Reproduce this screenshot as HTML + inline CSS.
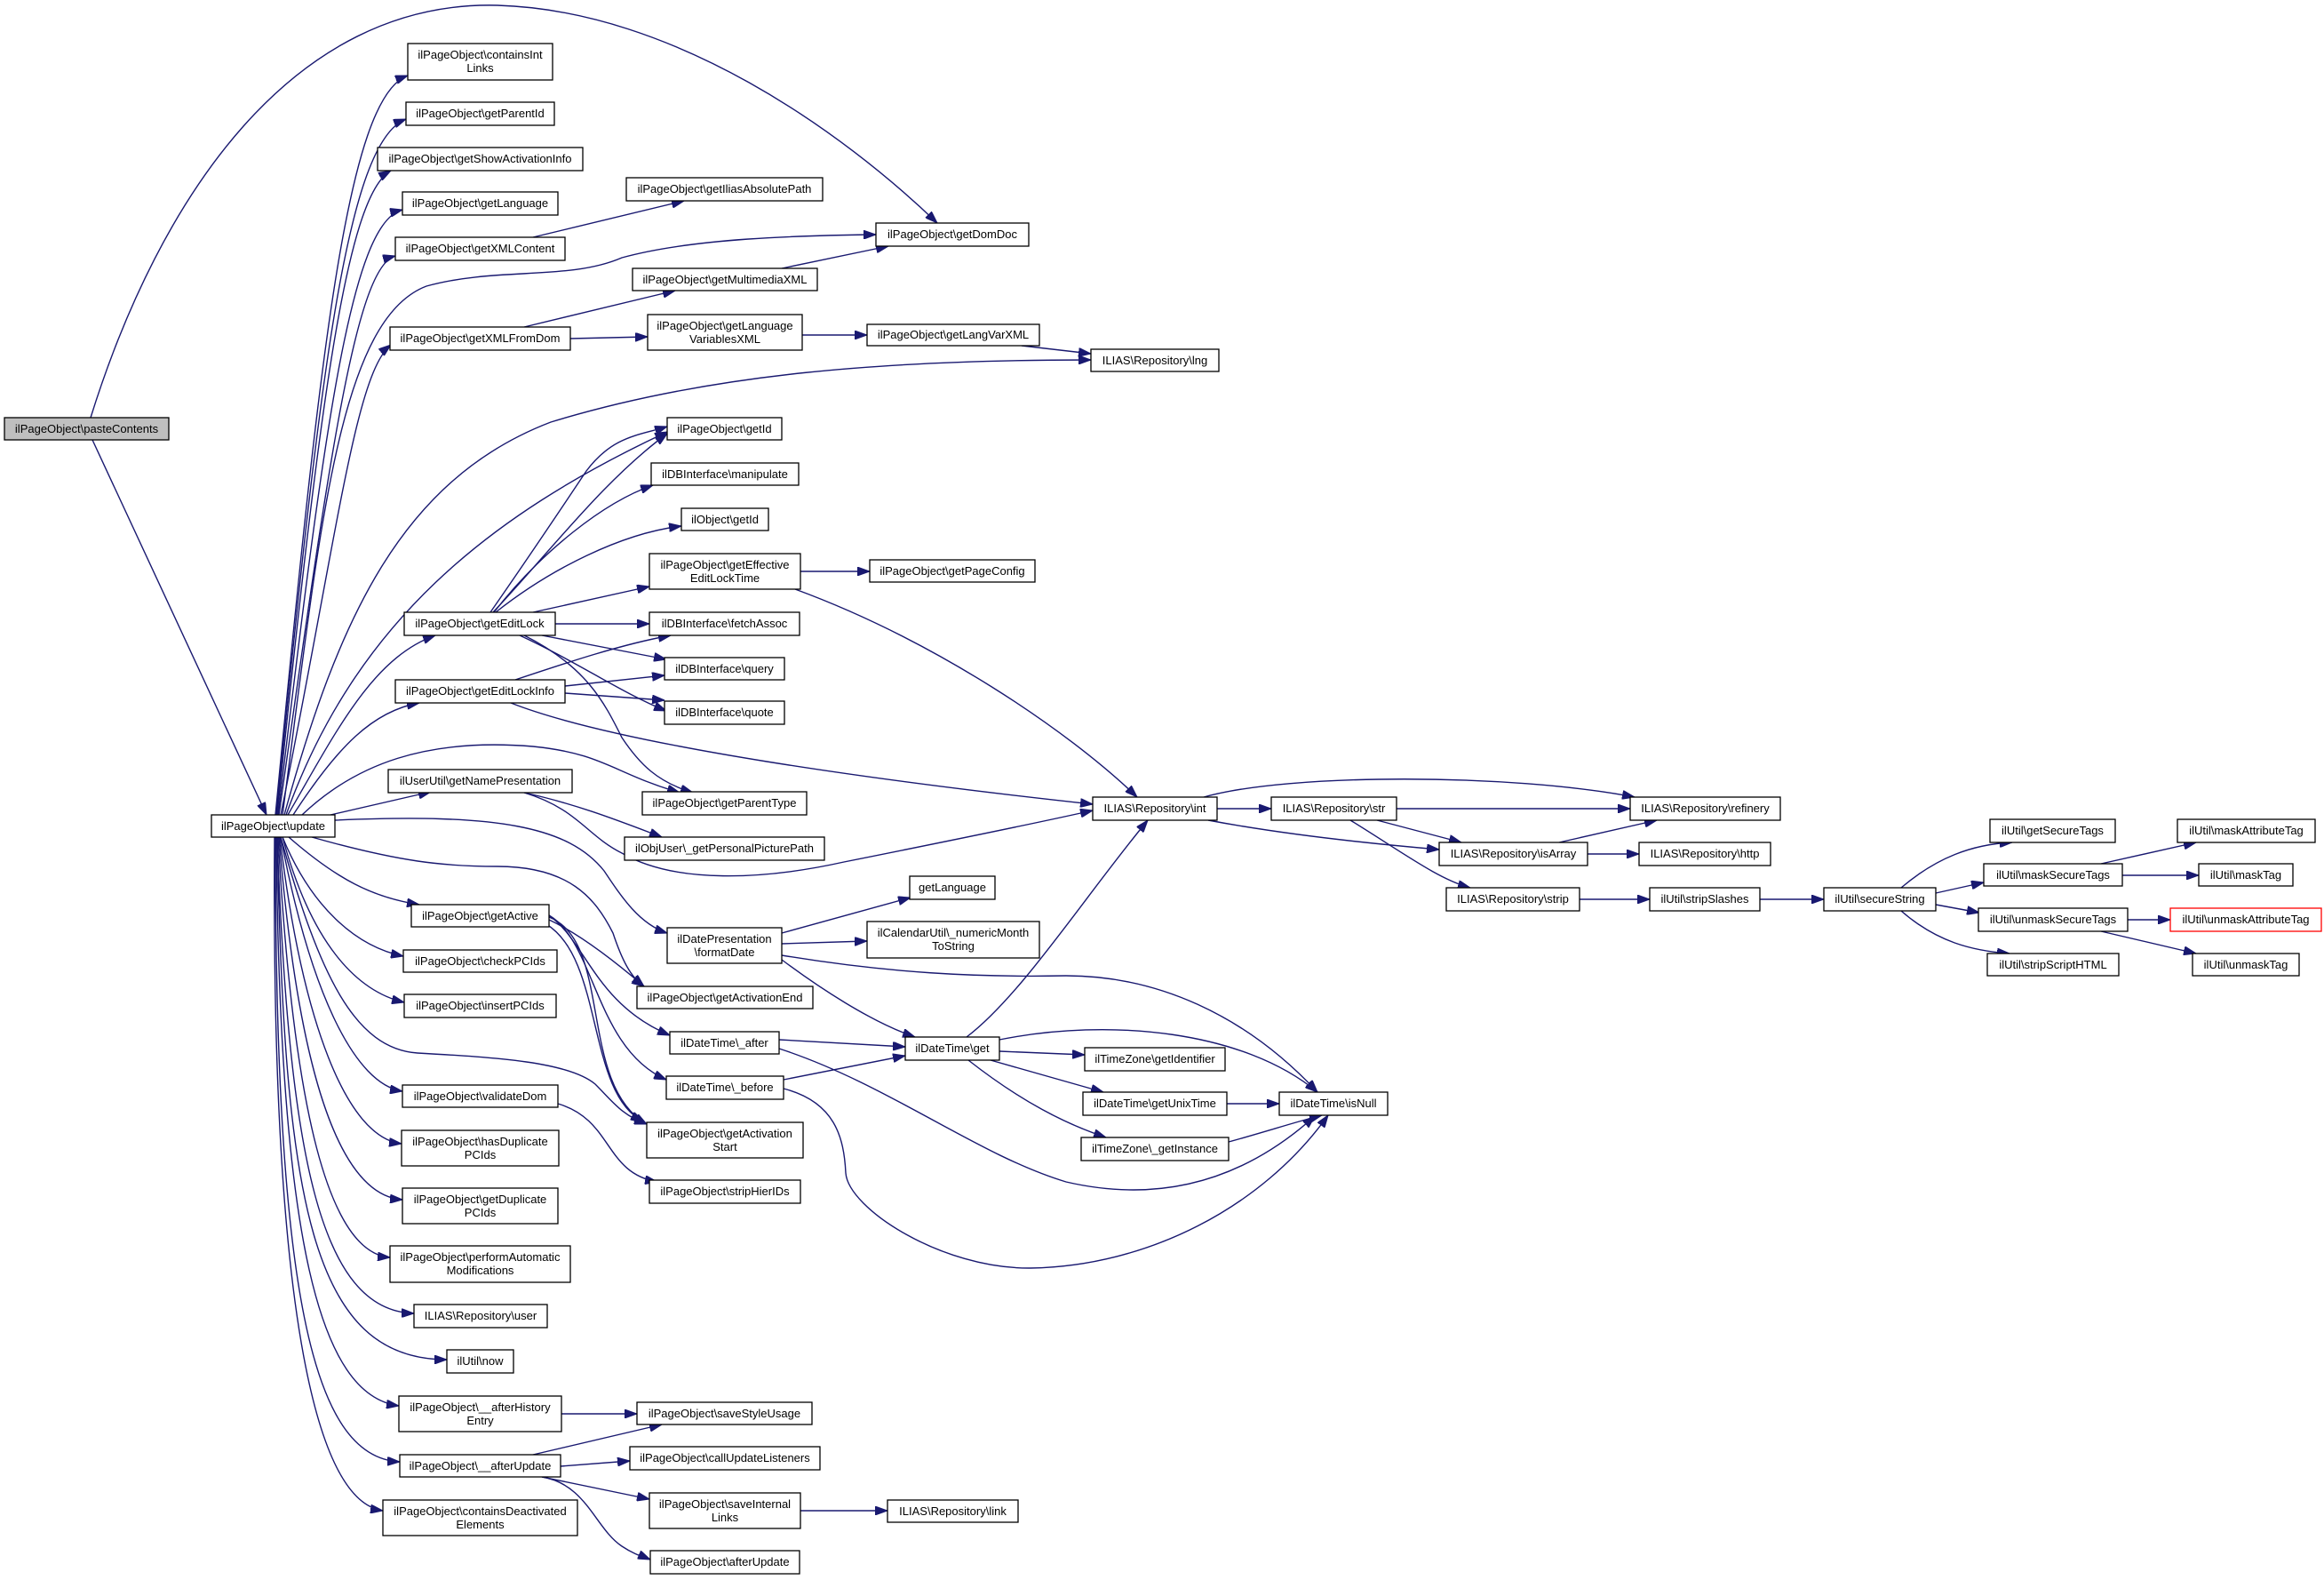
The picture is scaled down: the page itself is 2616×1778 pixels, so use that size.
<!DOCTYPE html>
<html><head><meta charset="utf-8"><style>
html,body{margin:0;padding:0;background:#fff;}
svg{display:block}
text{font-family:"Liberation Sans",Arial,sans-serif;font-size:13px;fill:#000;text-anchor:middle;}
.n{fill:#fff;stroke:#000;stroke-width:1.3}
.e{fill:none;stroke:#191970;stroke-width:1.4;marker-end:url(#a)}
</style></head><body>
<svg width="2616" height="1778" viewBox="0 0 2616 1778" xmlns="http://www.w3.org/2000/svg">
<defs><marker id="a" markerUnits="userSpaceOnUse" markerWidth="14" markerHeight="10" refX="14" refY="5" orient="auto"><path d="M0,0 L14,5 L0,10 z" fill="#191970" stroke="#191970"/></marker></defs>
<g>
<path class="e" d="M 102 470 C 180 220, 330 0, 560 6 C 760 12, 950 150, 1055 251"/>
<path class="e" d="M 104 495 L 300 917"/>
<path class="e" d="M 310 917 C 360 400, 390 110, 459 85"/>
<path class="e" d="M 311 917 C 360 420, 390 160, 457 134"/>
<path class="e" d="M 312 917 C 360 450, 390 220, 440 192"/>
<path class="e" d="M 313 917 C 365 480, 395 250, 453 236"/>
<path class="e" d="M 314 917 C 370 520, 400 300, 445 288"/>
<path class="e" d="M 316 917 C 380 600, 400 420, 440 388"/>
<path class="e" d="M 318 917 C 360 600, 380 360, 480 322 C 560 300, 640 316, 700 290 C 780 268, 900 265, 986 264"/>
<path class="e" d="M 320 917 C 380 700, 450 540, 620 475 C 800 420, 1000 405, 1228 405"/>
<path class="e" d="M 322 917 C 400 700, 550 580, 751 486"/>
<path class="e" d="M 324 917 C 380 820, 420 740, 490 715"/>
<path class="e" d="M 330 917 C 380 840, 420 800, 472 791"/>
<path class="e" d="M 340 917 C 400 860, 480 830, 600 840 C 680 848, 690 870, 765 892"/>
<path class="e" d="M 372 917 L 485 891"/>
<path class="e" d="M 377 923 C 560 915, 640 930, 680 980 C 700 1010, 720 1040, 751 1050"/>
<path class="e" d="M 325 942 C 380 990, 420 1010, 472 1018"/>
<path class="e" d="M 351 942 C 450 970, 500 975, 560 975 C 640 975, 670 1010, 690 1050 C 700 1080, 710 1100, 725 1110"/>
<path class="e" d="M 318 942 C 350 1020, 400 1065, 454 1076"/>
<path class="e" d="M 318 942 C 350 1060, 400 1115, 455 1128"/>
<path class="e" d="M 316 942 C 360 1100, 400 1180, 470 1185 C 560 1190, 640 1195, 670 1220 C 690 1240, 700 1255, 728 1265"/>
<path class="e" d="M 316 942 C 350 1120, 400 1220, 453 1228"/>
<path class="e" d="M 315 942 C 340 1150, 390 1280, 452 1287"/>
<path class="e" d="M 314 942 C 335 1200, 380 1345, 453 1350"/>
<path class="e" d="M 313 942 C 330 1250, 370 1410, 439 1415"/>
<path class="e" d="M 312 942 C 325 1300, 360 1475, 466 1478"/>
<path class="e" d="M 312 942 C 320 1350, 350 1530, 503 1530"/>
<path class="e" d="M 311 942 C 315 1400, 360 1570, 449 1582"/>
<path class="e" d="M 310 942 C 310 1450, 350 1640, 450 1645"/>
<path class="e" d="M 309 942 C 305 1500, 360 1690, 431 1700"/>
<path class="e" d="M 600 267 L 770 226"/>
<path class="e" d="M 590 368 L 760 327"/>
<path class="e" d="M 642 381 L 729 379"/>
<path class="e" d="M 880 302 L 1000 277"/>
<path class="e" d="M 903 377 L 976 377"/>
<path class="e" d="M 1150 389 L 1228 398"/>
<path class="e" d="M 552 689 C 600 620, 640 560, 660 530 C 690 490, 720 490, 751 480"/>
<path class="e" d="M 555 689 C 620 620, 680 540, 751 488"/>
<path class="e" d="M 556 689 C 610 620, 680 565, 735 546"/>
<path class="e" d="M 558 689 C 620 640, 700 600, 767 592"/>
<path class="e" d="M 600 689 L 731 660"/>
<path class="e" d="M 625 702 L 731 702"/>
<path class="e" d="M 610 715 L 750 742"/>
<path class="e" d="M 585 715 C 650 745, 700 780, 750 800"/>
<path class="e" d="M 590 715 C 660 750, 680 790, 700 830 C 720 860, 740 880, 780 892"/>
<path class="e" d="M 580 765 C 640 745, 700 725, 755 715"/>
<path class="e" d="M 636 772 L 748 760"/>
<path class="e" d="M 636 780 L 748 788"/>
<path class="e" d="M 575 791 C 700 840, 1000 880, 1230 905"/>
<path class="e" d="M 901 643 L 979 643"/>
<path class="e" d="M 895 663 C 1050 720, 1200 820, 1280 897"/>
<path class="e" d="M 590 892 C 650 905, 700 925, 745 942"/>
<path class="e" d="M 590 892 C 650 910, 660 940, 700 960 C 760 995, 860 990, 950 970 C 1050 950, 1150 930, 1230 912"/>
<path class="e" d="M 880 1050 L 1025 1010"/>
<path class="e" d="M 880 1062 L 976 1059"/>
<path class="e" d="M 880 1075 C 1000 1095, 1100 1100, 1200 1098 C 1300 1098, 1400 1140, 1483 1229"/>
<path class="e" d="M 880 1080 C 920 1110, 980 1150, 1030 1167"/>
<path class="e" d="M 618 1035 C 650 1050, 690 1080, 725 1110"/>
<path class="e" d="M 618 1030 C 660 1060, 670 1130, 754 1165"/>
<path class="e" d="M 618 1030 C 670 1060, 670 1180, 750 1215"/>
<path class="e" d="M 618 1032 C 690 1060, 650 1220, 728 1265"/>
<path class="e" d="M 615 1040 C 680 1080, 660 1230, 724 1262"/>
<path class="e" d="M 877 1170 L 1019 1178"/>
<path class="e" d="M 877 1180 C 1000 1220, 1100 1300, 1200 1330 C 1330 1360, 1420 1310, 1480 1256"/>
<path class="e" d="M 882 1215 L 1019 1188"/>
<path class="e" d="M 882 1225 C 940 1240, 950 1280, 952 1320 C 955 1360, 1060 1428, 1160 1427 C 1290 1425, 1420 1360, 1495 1255"/>
<path class="e" d="M 1088 1167 C 1150 1120, 1220 1010, 1292 923"/>
<path class="e" d="M 1125 1170 C 1250 1145, 1400 1160, 1483 1229"/>
<path class="e" d="M 1125 1183 L 1221 1187"/>
<path class="e" d="M 1115 1193 L 1242 1229"/>
<path class="e" d="M 1090 1193 C 1150 1240, 1200 1265, 1245 1280"/>
<path class="e" d="M 1381 1242 L 1440 1242"/>
<path class="e" d="M 1383 1285 C 1420 1275, 1460 1262, 1488 1255"/>
<path class="e" d="M 1370 910 L 1431 910"/>
<path class="e" d="M 1355 897 C 1450 870, 1700 870, 1840 897"/>
<path class="e" d="M 1360 923 C 1450 940, 1550 950, 1620 956"/>
<path class="e" d="M 1572 910 L 1835 910"/>
<path class="e" d="M 1550 923 L 1645 948"/>
<path class="e" d="M 1520 923 C 1580 960, 1620 990, 1655 999"/>
<path class="e" d="M 1755 948 L 1865 923"/>
<path class="e" d="M 1787 961 L 1845 961"/>
<path class="e" d="M 1778 1012 L 1857 1012"/>
<path class="e" d="M 1981 1012 L 2053 1012"/>
<path class="e" d="M 2140 999 C 2180 965, 2220 950, 2265 948"/>
<path class="e" d="M 2179 1005 L 2233 993"/>
<path class="e" d="M 2179 1018 L 2228 1027"/>
<path class="e" d="M 2140 1025 C 2180 1060, 2220 1070, 2262 1073"/>
<path class="e" d="M 2365 972 L 2472 948"/>
<path class="e" d="M 2389 985 L 2475 985"/>
<path class="e" d="M 2395 1035 L 2443 1035"/>
<path class="e" d="M 2365 1048 L 2472 1073"/>
<path class="e" d="M 628 1242 C 690 1260, 680 1320, 740 1330"/>
<path class="e" d="M 632 1591 L 717 1591"/>
<path class="e" d="M 600 1637 L 745 1603"/>
<path class="e" d="M 631 1650 L 709 1644"/>
<path class="e" d="M 610 1662 L 731 1687"/>
<path class="e" d="M 610 1662 C 660 1670, 670 1720, 700 1740 C 715 1750, 725 1752, 732 1755"/>
<path class="e" d="M 901 1700 L 999 1700"/>
</g>
<g>
<rect x="5" y="470" width="185" height="25" fill="#bfbfbf" stroke="#000" stroke-width="1.3"/><text x="97.5" y="487">ilPageObject\pasteContents</text>
<rect class="n" x="238" y="917" width="139" height="25"/><text x="307.5" y="934">ilPageObject\update</text>
<rect class="n" x="459" y="49" width="163" height="41"/><text x="540.5" y="66">ilPageObject\containsInt</text><text x="540.5" y="81">Links</text>
<rect class="n" x="457" y="115" width="167" height="26"/><text x="540.5" y="132">ilPageObject\getParentId</text>
<rect class="n" x="425" y="166" width="231" height="26"/><text x="540.5" y="183">ilPageObject\getShowActivationInfo</text>
<rect class="n" x="453" y="216" width="175" height="26"/><text x="540.5" y="233">ilPageObject\getLanguage</text>
<rect class="n" x="445" y="267" width="191" height="26"/><text x="540.5" y="284">ilPageObject\getXMLContent</text>
<rect class="n" x="705" y="200" width="221" height="26"/><text x="815.5" y="217">ilPageObject\getIliasAbsolutePath</text>
<rect class="n" x="712" y="302" width="208" height="25"/><text x="816" y="319">ilPageObject\getMultimediaXML</text>
<rect class="n" x="439" y="368" width="203" height="26"/><text x="540.5" y="385">ilPageObject\getXMLFromDom</text>
<rect class="n" x="729" y="354" width="174" height="40"/><text x="816" y="371">ilPageObject\getLanguage</text><text x="816" y="386">VariablesXML</text>
<rect class="n" x="986" y="251" width="172" height="26"/><text x="1072" y="268">ilPageObject\getDomDoc</text>
<rect class="n" x="976" y="365" width="194" height="24"/><text x="1073" y="381">ilPageObject\getLangVarXML</text>
<rect class="n" x="1228" y="393" width="144" height="25"/><text x="1300" y="410">ILIAS\Repository\lng</text>
<rect class="n" x="751" y="470" width="129" height="25"/><text x="815.5" y="487">ilPageObject\getId</text>
<rect class="n" x="733" y="521" width="166" height="25"/><text x="816" y="538">ilDBInterface\manipulate</text>
<rect class="n" x="767" y="572" width="98" height="25"/><text x="816" y="589">ilObject\getId</text>
<rect class="n" x="731" y="623" width="170" height="40"/><text x="816" y="640">ilPageObject\getEffective</text><text x="816" y="655">EditLockTime</text>
<rect class="n" x="979" y="630" width="186" height="25"/><text x="1072" y="647">ilPageObject\getPageConfig</text>
<rect class="n" x="455" y="689" width="170" height="26"/><text x="540" y="706">ilPageObject\getEditLock</text>
<rect class="n" x="731" y="689" width="169" height="26"/><text x="815.5" y="706">ilDBInterface\fetchAssoc</text>
<rect class="n" x="748" y="740" width="135" height="25"/><text x="815.5" y="757">ilDBInterface\query</text>
<rect class="n" x="445" y="765" width="191" height="26"/><text x="540.5" y="782">ilPageObject\getEditLockInfo</text>
<rect class="n" x="748" y="789" width="135" height="26"/><text x="815.5" y="806">ilDBInterface\quote</text>
<rect class="n" x="437" y="866" width="207" height="26"/><text x="540.5" y="883">ilUserUtil\getNamePresentation</text>
<rect class="n" x="723" y="891" width="185" height="26"/><text x="815.5" y="908">ilPageObject\getParentType</text>
<rect class="n" x="703" y="942" width="225" height="26"/><text x="815.5" y="959">ilObjUser\_getPersonalPicturePath</text>
<rect class="n" x="1230" y="897" width="140" height="26"/><text x="1300" y="914">ILIAS\Repository\int</text>
<rect class="n" x="1431" y="897" width="141" height="26"/><text x="1501.5" y="914">ILIAS\Repository\str</text>
<rect class="n" x="1835" y="897" width="169" height="26"/><text x="1919.5" y="914">ILIAS\Repository\refinery</text>
<rect class="n" x="1620" y="948" width="167" height="26"/><text x="1703.5" y="965">ILIAS\Repository\isArray</text>
<rect class="n" x="1845" y="948" width="148" height="26"/><text x="1919" y="965">ILIAS\Repository\http</text>
<rect class="n" x="1628" y="999" width="150" height="26"/><text x="1703" y="1016">ILIAS\Repository\strip</text>
<rect class="n" x="1857" y="999" width="124" height="26"/><text x="1919" y="1016">ilUtil\stripSlashes</text>
<rect class="n" x="2053" y="999" width="126" height="26"/><text x="2116" y="1016">ilUtil\secureString</text>
<rect class="n" x="2240" y="922" width="141" height="26"/><text x="2310.5" y="939">ilUtil\getSecureTags</text>
<rect class="n" x="2233" y="972" width="156" height="25"/><text x="2311" y="989">ilUtil\maskSecureTags</text>
<rect class="n" x="2227" y="1022" width="168" height="26"/><text x="2311" y="1039">ilUtil\unmaskSecureTags</text>
<rect class="n" x="2237" y="1073" width="148" height="25"/><text x="2311" y="1090">ilUtil\stripScriptHTML</text>
<rect class="n" x="2451" y="922" width="155" height="26"/><text x="2528.5" y="939">ilUtil\maskAttributeTag</text>
<rect class="n" x="2475" y="972" width="106" height="25"/><text x="2528" y="989">ilUtil\maskTag</text>
<rect x="2443" y="1022" width="170" height="26" fill="#fff" stroke="#ff0000" stroke-width="1.3"/><text x="2528" y="1039">ilUtil\unmaskAttributeTag</text>
<rect class="n" x="2468" y="1073" width="120" height="25"/><text x="2528" y="1090">ilUtil\unmaskTag</text>
<rect class="n" x="463" y="1018" width="155" height="25"/><text x="540.5" y="1035">ilPageObject\getActive</text>
<rect class="n" x="751" y="1044" width="129" height="40"/><text x="815.5" y="1061">ilDatePresentation</text><text x="815.5" y="1076">\formatDate</text>
<rect class="n" x="1024" y="986" width="96" height="26"/><text x="1072" y="1003">getLanguage</text>
<rect class="n" x="976" y="1037" width="194" height="41"/><text x="1073" y="1054">ilCalendarUtil\_numericMonth</text><text x="1073" y="1069">ToString</text>
<rect class="n" x="454" y="1069" width="173" height="25"/><text x="540.5" y="1086">ilPageObject\checkPCIds</text>
<rect class="n" x="717" y="1110" width="198" height="25"/><text x="816" y="1127">ilPageObject\getActivationEnd</text>
<rect class="n" x="455" y="1119" width="171" height="26"/><text x="540.5" y="1136">ilPageObject\insertPCIds</text>
<rect class="n" x="754" y="1161" width="123" height="25"/><text x="815.5" y="1178">ilDateTime\_after</text>
<rect class="n" x="1019" y="1167" width="106" height="26"/><text x="1072" y="1184">ilDateTime\get</text>
<rect class="n" x="1221" y="1179" width="158" height="26"/><text x="1300" y="1196">ilTimeZone\getIdentifier</text>
<rect class="n" x="750" y="1211" width="132" height="26"/><text x="816" y="1228">ilDateTime\_before</text>
<rect class="n" x="453" y="1221" width="175" height="25"/><text x="540.5" y="1238">ilPageObject\validateDom</text>
<rect class="n" x="1219" y="1229" width="162" height="26"/><text x="1300" y="1246">ilDateTime\getUnixTime</text>
<rect class="n" x="1440" y="1229" width="122" height="26"/><text x="1501" y="1246">ilDateTime\isNull</text>
<rect class="n" x="728" y="1263" width="176" height="40"/><text x="816" y="1280">ilPageObject\getActivation</text><text x="816" y="1295">Start</text>
<rect class="n" x="452" y="1272" width="177" height="40"/><text x="540.5" y="1289">ilPageObject\hasDuplicate</text><text x="540.5" y="1304">PCIds</text>
<rect class="n" x="1217" y="1280" width="166" height="26"/><text x="1300" y="1297">ilTimeZone\_getInstance</text>
<rect class="n" x="731" y="1328" width="170" height="26"/><text x="816" y="1345">ilPageObject\stripHierIDs</text>
<rect class="n" x="453" y="1337" width="175" height="40"/><text x="540.5" y="1354">ilPageObject\getDuplicate</text><text x="540.5" y="1369">PCIds</text>
<rect class="n" x="439" y="1402" width="203" height="41"/><text x="540.5" y="1419">ilPageObject\performAutomatic</text><text x="540.5" y="1434">Modifications</text>
<rect class="n" x="466" y="1468" width="150" height="26"/><text x="541" y="1485">ILIAS\Repository\user</text>
<rect class="n" x="503" y="1519" width="75" height="26"/><text x="540.5" y="1536">ilUtil\now</text>
<rect class="n" x="449" y="1571" width="183" height="40"/><text x="540.5" y="1588">ilPageObject\__afterHistory</text><text x="540.5" y="1603">Entry</text>
<rect class="n" x="717" y="1578" width="197" height="25"/><text x="815.5" y="1595">ilPageObject\saveStyleUsage</text>
<rect class="n" x="450" y="1637" width="181" height="25"/><text x="540.5" y="1654">ilPageObject\__afterUpdate</text>
<rect class="n" x="709" y="1628" width="214" height="26"/><text x="816" y="1645">ilPageObject\callUpdateListeners</text>
<rect class="n" x="731" y="1680" width="170" height="40"/><text x="816" y="1697">ilPageObject\saveInternal</text><text x="816" y="1712">Links</text>
<rect class="n" x="999" y="1688" width="147" height="25"/><text x="1072.5" y="1705">ILIAS\Repository\link</text>
<rect class="n" x="431" y="1688" width="219" height="40"/><text x="540.5" y="1705">ilPageObject\containsDeactivated</text><text x="540.5" y="1720">Elements</text>
<rect class="n" x="732" y="1745" width="168" height="26"/><text x="816" y="1762">ilPageObject\afterUpdate</text>
</g>
</svg>
</body></html>
